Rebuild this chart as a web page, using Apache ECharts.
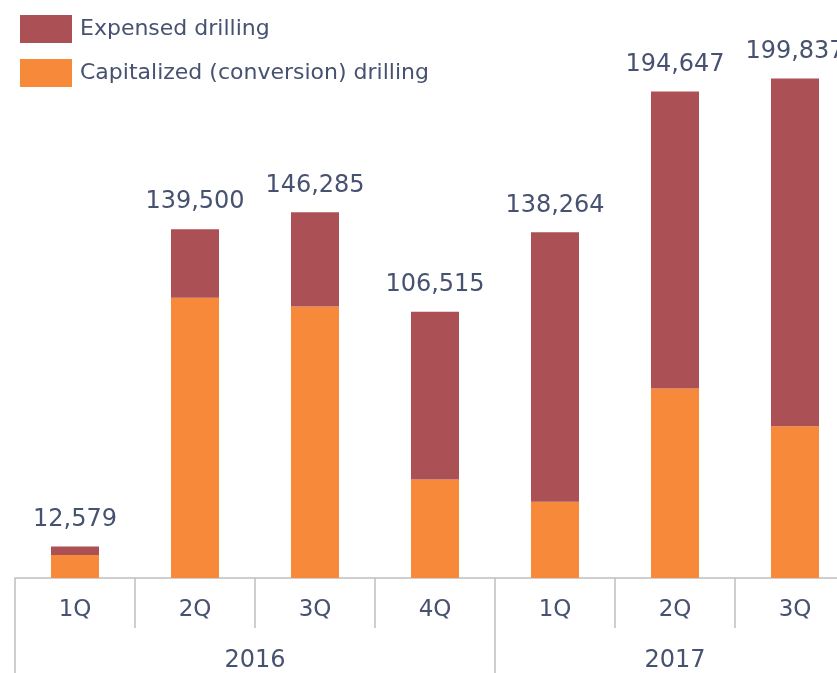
<!DOCTYPE html>
<html>
<head>
<meta charset="utf-8">
<script src="https://cdn.jsdelivr.net/npm/echarts@6/dist/echarts.min.js"></script>
<style>
  html, body { margin: 0; padding: 0; background: #fff; }
  #chart { width: 837px; height: 673px; }
</style>
</head>
<body>
<div id="chart"></div>
<script>
const quarters = ['1Q', '2Q', '3Q', '4Q', '1Q', '2Q', '3Q']
const years = ['2016', '2017']
const yearCenters = [2, 5.5]
const yearBounds = [0, 4]
const totals = [12579, 139500, 146285, 106515, 138264, 194647, 199837]
const capitalized = [9200, 112100, 108600, 39400, 30500, 75800, 60700]
const expensed = [3379, 27400, 37685, 67115, 107764, 118847, 139137]

const textColor = '#475170'
const fontFamily = 'DejaVu Sans'

const chart = echarts.init(document.getElementById('chart'))

const option = {
  backgroundColor: '#fff',
  textStyle: { fontFamily: fontFamily },
  legend: {
    orient: 'vertical',
    left: 15,
    top: 10,
    itemWidth: 52,
    itemHeight: 28,
    itemGap: 16,
    icon: 'rect',
    data: ['Expensed drilling', 'Capitalized (conversion) drilling'],
    textStyle: { color: textColor, fontSize: 22, fontFamily: fontFamily, padding: [0, 0, 0, 3] }
  },
  grid: {
    left: 15,
    top: 8,
    right: -18,
    bottom: 95,
    outerBoundsMode: 'none'
  },
  xAxis: [
    {
      type: 'category',
      data: quarters,
      axisLine: { lineStyle: { color: '#bfbfbf', width: 1.5 } },
      axisTick: { show: true, interval: 0, length: 50, lineStyle: { color: '#bfbfbf', width: 1.5 } },
      axisLabel: { color: textColor, fontSize: 23, margin: 21, interval: 0 }
    },
    {
      type: 'value',
      position: 'bottom',
      min: 0,
      max: 7,
      splitLine: { show: false },
      axisLine: { show: false },
      axisTick: {
        show: true,
        customValues: yearBounds,
        length: 95,
        lineStyle: { color: '#bfbfbf', width: 1.5 }
      },
      axisLabel: {
        customValues: yearCenters,
        color: textColor,
        fontSize: 24,
        margin: 71,
        formatter: (v) => years[yearCenters.indexOf(v)] || ''
      }
    }
  ],
  yAxis: {
    type: 'value',
    min: 0,
    max: 228000,
    show: false,
    splitLine: { show: false }
  },
  series: [
    {
      name: 'Capitalized (conversion) drilling',
      type: 'bar',
      stack: 'total',
      barWidth: 48,
      data: capitalized,
      itemStyle: { color: '#f78a3a' }
    },
    {
      name: 'Expensed drilling',
      type: 'bar',
      stack: 'total',
      barWidth: 48,
      data: expensed,
      itemStyle: { color: '#ab5055' },
      label: {
        show: true,
        position: 'top',
        distance: 15,
        color: textColor,
        fontSize: 24,
        fontFamily: fontFamily,
        formatter: (p) => totals[p.dataIndex].toLocaleString('en-US')
      }
    }
  ]
}

chart.setOption(option)
</script>
</body>
</html>
